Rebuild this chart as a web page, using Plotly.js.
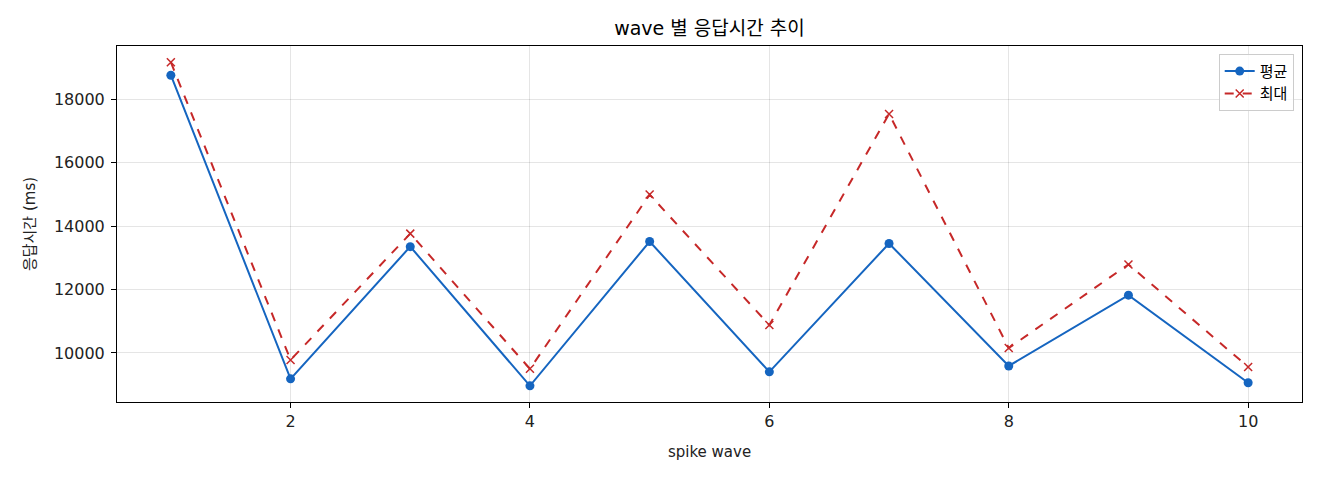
<!DOCTYPE html>
<html><head><meta charset="utf-8">
<script src="https://cdn.plot.ly/plotly-3.0.1.min.js"></script>
<style>html,body{margin:0;padding:0;background:#fff}#c{width:1320px;height:480px}</style>
</head><body><div id="c"></div>
<script>
const waves = [1,2,3,4,5,6,7,8,9,10];
const avgMs = [18750,9185,13350,8965,13510,9405,13450,9590,11820,9060];
const maxMs = [19160,9780,13760,9500,14990,10880,17530,10155,12790,9560];
const xTicks = [2,4,6,8,10];
const yTicks = [10000,12000,14000,16000,18000];
const yTickText = ['10000','12000','14000','16000','18000'];
const F = '"DejaVu Sans", "Noto Sans CJK KR", sans-serif';
const traces = [
  {x: waves, y: avgMs, name: '평균', mode: 'lines+markers', type: 'scatter',
   line: {color: '#1565C0', width: 2}, marker: {symbol: 'circle', size: 9, color: '#1565C0'}},
  {x: waves, y: maxMs, name: '최대', mode: 'lines+markers', type: 'scatter',
   line: {color: '#C62828', width: 2, dash: 'dash'}, marker: {symbol: 'x-thin', size: 8, line: {color: '#C62828', width: 1.5}, color: '#C62828'}}
];
const axisCommon = {showline: true, mirror: true, linecolor: '#000', linewidth: 1,
  ticks: 'outside', ticklen: 5, tickcolor: '#000', tickwidth: 1,
  showgrid: true, gridcolor: 'rgba(0,0,0,0.1)', gridwidth: 1, zeroline: false,
  tickfont: {family: F, size: 16, color: '#222'}};
const layout = {
  width: 1320, height: 480,
  margin: {l: 117, r: 18, t: 46, b: 78},
  paper_bgcolor: '#fff', plot_bgcolor: '#fff',
  title: {text: 'wave 별 응답시간 추이', font: {family: F, size: 19, color: '#000'}, x: 0.5, xref: 'paper', y: 0.94, yanchor: 'middle'},
  xaxis: Object.assign({}, axisCommon, {range: [0.55, 10.45], tickvals: xTicks,
    title: {text: 'spike wave', font: {family: F, size: 15, color: '#222'}, standoff: 16}}),
  yaxis: Object.assign({}, axisCommon, {range: [8455, 19671], tickvals: yTicks, ticktext: yTickText,
    ticklabelstandoff: 3,
    title: {text: '응답시간 (ms)', font: {family: F, size: 15, color: '#222'}, standoff: 14}}),
  legend: {x: 0.993, y: 0.978, xanchor: 'right', yanchor: 'top', bgcolor: 'rgba(255,255,255,0.8)',
    bordercolor: '#ccc', borderwidth: 1, font: {family: F, size: 15, color: '#000'}},
  showlegend: true
};
Plotly.newPlot('c', traces, layout, {displayModeBar: false, staticPlot: true});
</script></body></html>
